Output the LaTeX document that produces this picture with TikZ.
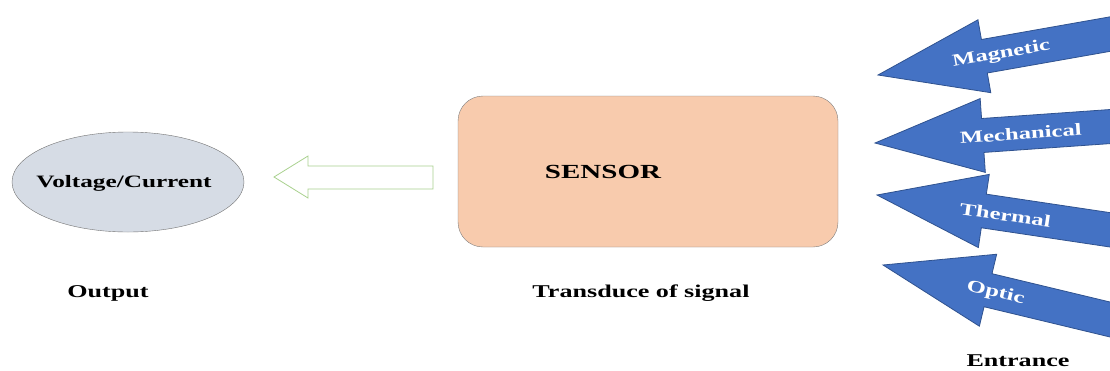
\documentclass[tikz,border=0pt]{standalone}
\usepackage{fontspec}
\setmainfont{Liberation Serif}
\usepackage{xcolor}
\usepackage{tikz}
\usetikzlibrary{arrows.meta, positioning, shapes.geometric}

\definecolor{bluarrow}{HTML}{4472C4}
\definecolor{bluedge}{HTML}{2F528F}
\definecolor{sensorfill}{HTML}{F8CBAD}
\definecolor{ellfill}{HTML}{D6DCE5}
\definecolor{greenedge}{HTML}{A9D18E}

\tikzset{
  testo/.style={font=\fontsize{18}{20}\selectfont\bfseries, xscale=1.45, inner sep=0pt},
  etichetta/.style={font=\fontsize{17}{19}\selectfont\bfseries, text=white, xscale=1.45, inner sep=0pt, transform shape},
  freccia/.style={fill=bluarrow, draw=bluedge, line width=0.8pt, line join=miter}
}

% freccia blu: punta (x,y), angolo, testo, nome, posizione del testo
\newcommand{\grandezza}[6]{%
  \begin{scope}[shift={(#1,#2)}, rotate=#3]
    \filldraw[freccia] (0,0) -- (108,-37) -- (108,-17) -- (320,-17)
      -- (320,17) -- (108,17) -- (108,37) -- cycle;
    \node[etichetta] (#5) at (#6,1) {#4};
  \end{scope}}

\begin{document}
\begin{tikzpicture}[x=1pt, y=-1pt]
    % Area del disegno
    \clip (0,0) rectangle (1110,370);
    \fill[white] (0,0) rectangle (1110,370);

    % Uscita
    \node[ellipse, draw=gray!90!black, fill=ellfill, minimum width=232pt, minimum height=100pt] (uscita) at (128,182) {};
    \node[testo, font=\fontsize{17.4}{19}\selectfont\bfseries] (uscitatxt) at (124,183) {Voltage/Current};
    \node[testo] (output) at (108,293) {Output};

    % Freccia vuota verso l'uscita
    \draw[greenedge, line width=0.8pt] (274,177) -- (308,156) -- (308,166) -- (433,166)
      -- (433,189) -- (308,189) -- (308,198) -- cycle;

    % Sensore
    \node[draw=gray, fill=sensorfill, rounded corners=25pt, minimum width=380pt, minimum height=151pt] (sensore) at (648,171.5) {};
    \node[testo, font=\fontsize{20}{22}\selectfont\bfseries] (sensoretxt) at (603,172) {SENSOR};
    \node[testo] (trasduzione) at (641,293) {Transduce of signal};

    % Ingressi
    \grandezza{878}{75}{10}{Magnetic}{magnetico}{125}
    \grandezza{875}{143}{4}{Mechanical}{meccanico}{146}
    \grandezza{877}{195}{-8.5}{Thermal}{termico}{130}
    \grandezza{883}{265}{-13.5}{Optic}{ottico}{116}
    \node[testo] (entrata) at (1018,361) {Entrance};
\end{tikzpicture}
\end{document}
